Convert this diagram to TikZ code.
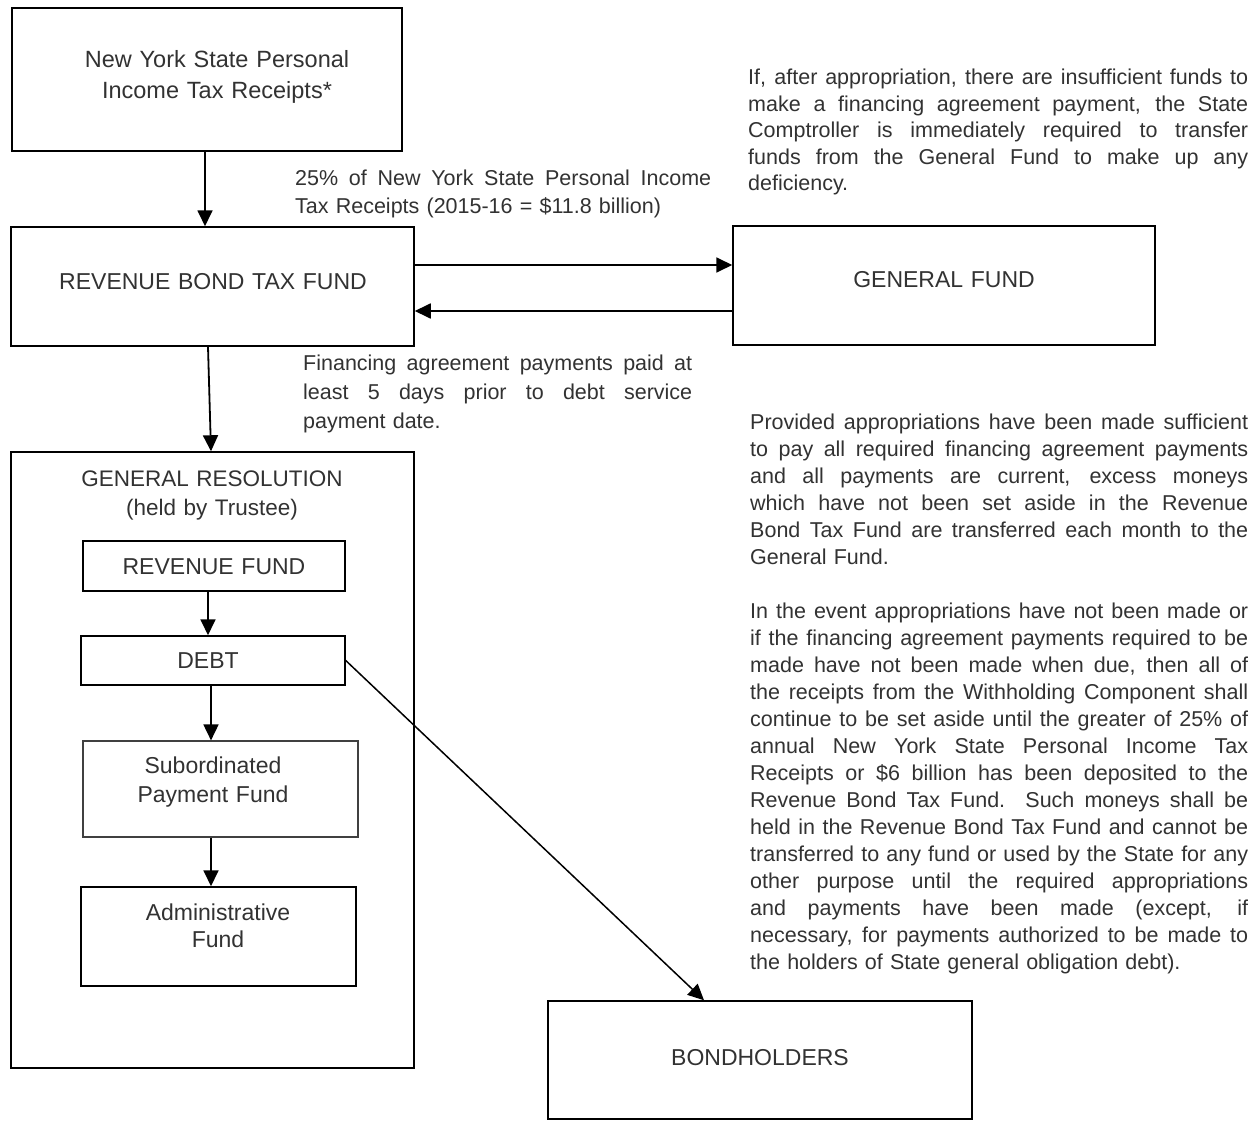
\documentclass[tikz,border=0pt]{standalone}
\usepackage{fontspec}
\setmainfont{Liberation Sans}
\usetikzlibrary{arrows.meta,calc}
\definecolor{txt}{RGB}{50,50,50}
\newcommand{\jline}[1]{\leavevmode\hbox to\hsize{\spaceskip=0pt\relax\xspaceskip=0pt\relax #1}\\}
\begin{document}
\begin{tikzpicture}[x=1pt,y=-1pt,
  box/.style={draw=black, line width=1.5pt, inner sep=0pt, rectangle},
  arr/.style={draw=black, line width=1.8pt, -{Triangle[length=16pt,width=15pt]}},
  boxtext/.style={text=txt, inner sep=0pt, anchor=base, align=center, text width=380pt},
  paratext/.style={text=txt, inner sep=0pt, anchor=base west, align=left},
]
\fill[white] (0,0) rectangle (1260,1121);
\useasboundingbox (0,0) rectangle (1260,1121);

% boxes
\node[box, minimum width=390, minimum height=143] (src) at (207,79.5) {};
\node[box, minimum width=403, minimum height=119] (rbtf) at (212.5,286.5) {};
\node[box, minimum width=422, minimum height=119] (gf) at (944,285.5) {};
\node[box, minimum width=403, minimum height=616] (gr) at (212.5,760) {};
\node[box, minimum width=262, minimum height=50] (rf) at (214,566) {};
\node[box, minimum width=264, minimum height=49] (debt) at (213,660.5) {};
\node[box, draw=black!75, line width=1.2pt, minimum width=275, minimum height=96] (sub) at (220.5,789) {};
\node[box, minimum width=275, minimum height=99] (adm) at (218.5,936.5) {};
\node[box, minimum width=424, minimum height=118] (bond) at (760,1060) {};

% box texts
\node[boxtext, font=\fontsize{23.5}{31}\selectfont] (srct) at (217,68) {New York State Personal\\Income Tax Receipts*};
\node[boxtext, font=\fontsize{23}{30}\selectfont] (rbtft) at (213,289) {REVENUE BOND TAX FUND};
\node[boxtext, font=\fontsize{23}{30}\selectfont] (gft) at (944,287) {GENERAL FUND};
\node[boxtext, font=\fontsize{22.5}{29}\selectfont] (grt) at (212,486) {GENERAL RESOLUTION\\(held by Trustee)};
\node[boxtext, font=\fontsize{23}{30}\selectfont] (rft) at (214,574) {REVENUE FUND};
\node[boxtext, font=\fontsize{23}{30}\selectfont] (debtt) at (208,668) {DEBT};
\node[boxtext, font=\fontsize{23}{29}\selectfont] (subt) at (213,773) {Subordinated\\Payment Fund};
\node[boxtext, font=\fontsize{23}{27}\selectfont] (admt) at (218,920) {Administrative\\Fund};
\node[boxtext, font=\fontsize{23}{30}\selectfont] (bondt) at (760,1065) {BONDHOLDERS};

% paragraphs
\node[paratext, text width=416pt, font=\fontsize{21.5}{28}\selectfont] (pct) at (295,185)
  {\jline{25\% of New York State Personal Income}Tax Receipts (2015-16 = \$11.8 billion)};
\node[paratext, text width=389pt, font=\fontsize{21.5}{29}\selectfont] (fin) at (303,370)
  {\jline{Financing agreement payments paid at}\jline{least 5 days prior to debt service}payment date.};
\node[paratext, text width=500pt, font=\fontsize{21.5}{26.5}\selectfont] (tr) at (748,85)
  {\jline{If, after appropriation, there are insufficient funds to}%
   \jline{make a financing agreement payment, the State}%
   \jline{Comptroller is immediately required to transfer}%
   \jline{funds from the General Fund to make up any}%
   deficiency.};
\node[paratext, text width=498pt, font=\fontsize{21.5}{27}\selectfont] (rp) at (750,429)
  {\jline{Provided appropriations have been made sufficient}%
   \jline{to pay all required financing agreement payments}%
   \jline{and all payments are current, excess moneys}%
   \jline{which have not been set aside in the Revenue}%
   \jline{Bond Tax Fund are transferred each month to the}%
   General Fund.\\[27pt]%
   \jline{In the event appropriations have not been made or}%
   \jline{if the financing agreement payments required to be}%
   \jline{made have not been made when due, then all of}%
   \jline{the receipts from the Withholding Component shall}%
   \jline{continue to be set aside until the greater of 25\% of}%
   \jline{annual New York State Personal Income Tax}%
   \jline{Receipts or \$6 billion has been deposited to the}%
   \jline{Revenue Bond Tax Fund.\ \ Such moneys shall be}%
   \jline{held in the Revenue Bond Tax Fund and cannot be}%
   \jline{transferred to any fund or used by the State for any}%
   \jline{other purpose until the required appropriations}%
   \jline{and payments have been made (except, if}%
   \jline{necessary, for payments authorized to be made to}%
   the holders of State general obligation debt).};

% connectors
\coordinate (xa) at (205,0);
\coordinate (xb) at (208,0);
\coordinate (xc) at (211,0);
\coordinate (xd) at (704,0);
\coordinate (ya) at (0,265);
\coordinate (yb) at (0,311);
\draw[arr] (src.south -| xa) -- (rbtf.north -| xa);
\draw[arr] (rbtf.east |- ya) -- (gf.west |- ya);
\draw[arr] (gf.west |- yb) -- (rbtf.east |- yb);
\draw[arr] ($(rbtf.south)+(-4.5,0)$) -- ($(gr.north)+(-1.5,0)$);
\draw[arr] (rf.south -| xb) -- (debt.north -| xb);
\draw[arr] (debt.south -| xc) -- (sub.north -| xc);
\draw[arr] (sub.south -| xc) -- (adm.north -| xc);
\draw[arr, line width=1.5pt] (debt.east) -- (bond.north -| xd);
\end{tikzpicture}
\end{document}
